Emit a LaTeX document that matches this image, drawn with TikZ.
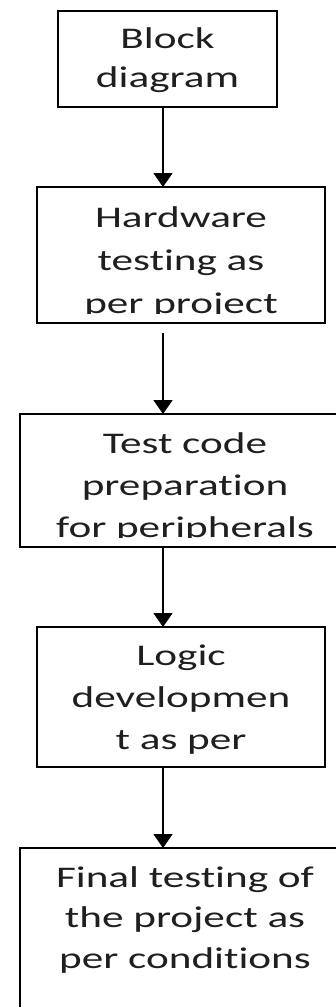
\documentclass[tikz,border=0pt]{standalone}
\usepackage{fontspec}
\setmainfont{Carlito}[FakeStretch=1.44, Ligatures=NoCommon]
\usetikzlibrary{arrows.meta,calc}

\tikzset{
  stage/.style={draw=black, line width=1.8pt, rectangle, inner sep=0pt, outer sep=0pt},
  linetext/.style={anchor=base, inner sep=0pt, text=black!88, font=\fontsize{30}{42}\selectfont},
  flow/.style={draw=black, line width=1.8pt, -{Triangle[width=19pt,length=14pt]}}
}

% #1 box name, #2 first baseline below top edge, #3 line pitch,
% #4 inset of the text window above the bottom edge, #5 the lines
\newcommand\stagetext[5]{%
  \begin{scope}
    \clip ($(#1.south west)+(0,-#4)$) rectangle (#1.north east);
    \foreach \ln [count=\k] in {#5}
      \node[linetext] (#1-\k) at ($(#1.north)+(0,#2+#3*\k-#3)$) {\ln};
  \end{scope}}

\begin{document}
\begin{tikzpicture}[x=1pt,y=-1pt]
  \clip (0,0) rectangle (336,1007);
  \fill[white] (0,0) rectangle (336,1007);

  % process stages
  \node[stage, minimum width=219pt, minimum height=96pt]  (b1) at (167.5,59)  {};
  \node[stage, minimum width=288pt, minimum height=136pt] (b2) at (181,255)   {};
  \node[stage, minimum width=330pt, minimum height=133pt] (b3) at (185,480.5) {};
  \node[stage, minimum width=288pt, minimum height=140pt] (b4) at (181,697)   {};
  \node[stage, minimum width=330pt, minimum height=212pt] (b5) at (185,954)   {};

  \stagetext{b1}{37}{39}{0}{Block,diagram}
  \stagetext{b2}{40}{43}{10}{Hardware,testing as,per project}
  \stagetext{b3}{39}{42}{10}{Test code,preparation,for peripherals}
  \stagetext{b4}{38}{42}{10}{Logic,developmen,t as per}
  \stagetext{b5}{39}{40.5}{0}{Final testing of,the project as,per conditions}

  % flow arrows share one vertical axis
  \coordinate (ax) at (163,0);
  \draw[flow] (b1.south -| ax) -- (b2.north -| ax);
  \draw[flow, shorten <=10pt] (b2.south -| ax) -- (b3.north -| ax);
  \draw[flow] (b3.south -| ax) -- (b4.north -| ax);
  \draw[flow] (b4.south -| ax) -- (b5.north -| ax);
\end{tikzpicture}
\end{document}
